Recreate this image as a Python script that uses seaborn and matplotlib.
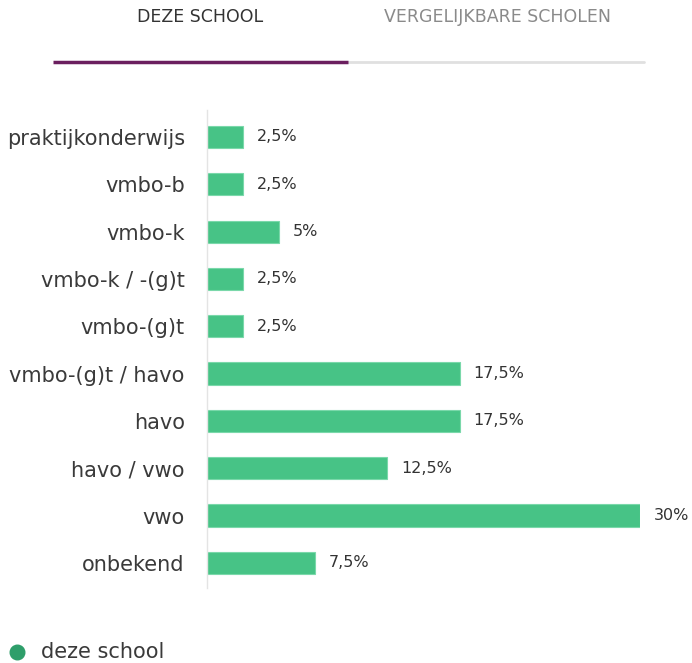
import matplotlib
matplotlib.use("Agg")
import matplotlib.pyplot as plt
import seaborn as sns
import pandas as pd
from matplotlib.lines import Line2D

categories = ["praktijkonderwijs", "vmbo-b", "vmbo-k", "vmbo-k / -(g)t", "vmbo-(g)t",
              "vmbo-(g)t / havo", "havo", "havo / vwo", "vwo", "onbekend"]
values = [2.5, 2.5, 5, 2.5, 2.5, 17.5, 17.5, 12.5, 30, 7.5]
value_labels = ["2,5%", "2,5%", "5%", "2,5%", "2,5%", "17,5%", "17,5%", "12,5%", "30%", "7,5%"]
tabs = ["DEZE SCHOOL", "VERGELIJKBARE SCHOLEN"]
legend_label = "deze school"

sns.set_theme(style="white")
plt.rcParams['font.family'] = ['DejaVu Sans']

W, H = 692, 663
fig = plt.figure(figsize=(W / 100, H / 100), dpi=100)
ax = fig.add_axes([207 / W, 1 - 588 / H, (640 - 207) / W, (588 - 110) / H])

df = pd.DataFrame({"cat": categories, "val": values})
green = "#47c386"
sns.barplot(data=df, y="cat", x="val", orient="h", color=green, width=0.47,
            edgecolor="#7ad8aa", linewidth=0.8, saturation=1, ax=ax)

ax.set_xlim(0, 30)
ax.set_ylim(9.53, -0.57)
ax.set_xlabel("")
ax.set_ylabel("")
ax.set_xticks([])
for s in ["top", "right", "bottom"]:
    ax.spines[s].set_visible(False)
ax.spines["left"].set_color("#e4e4e4")
ax.spines["left"].set_linewidth(1)
ax.tick_params(axis="y", length=0, pad=16, labelsize=15, labelcolor="#3a3a3a")

for i, (v, lab) in enumerate(zip(values, value_labels)):
    ax.annotate(lab, xy=(v, i), xytext=(14, 0), textcoords="offset pixels",
                va="center", ha="left", fontsize=11.5, color="#333333")

# Tabs
fig.text(200 / W, 1 - 17 / H, tabs[0], ha="center", va="center", fontsize=12.5, color="#333333")
fig.text(497 / W, 1 - 17 / H, tabs[1], ha="center", va="center", fontsize=12.5, color="#8a8a8a")
fig.add_artist(Line2D([348 / W, 644 / W], [1 - 62 / H, 1 - 62 / H], color="#e0e0e0", lw=2,
                      transform=fig.transFigure))
fig.add_artist(Line2D([53 / W, 348 / W], [1 - 62 / H, 1 - 62 / H], color="#6b1f5f", lw=2.5,
                      transform=fig.transFigure, solid_capstyle="butt"))

# Legend
fig.add_artist(Line2D([17 / W], [1 - 652 / H], marker="o", markersize=10.5, color="#2e9e6a",
                      linestyle="none", transform=fig.transFigure))
fig.text(41 / W, 1 - 652 / H, legend_label, ha="left", va="center", fontsize=15, color="#3a3a3a")

fig.savefig("out.png", dpi=100)
